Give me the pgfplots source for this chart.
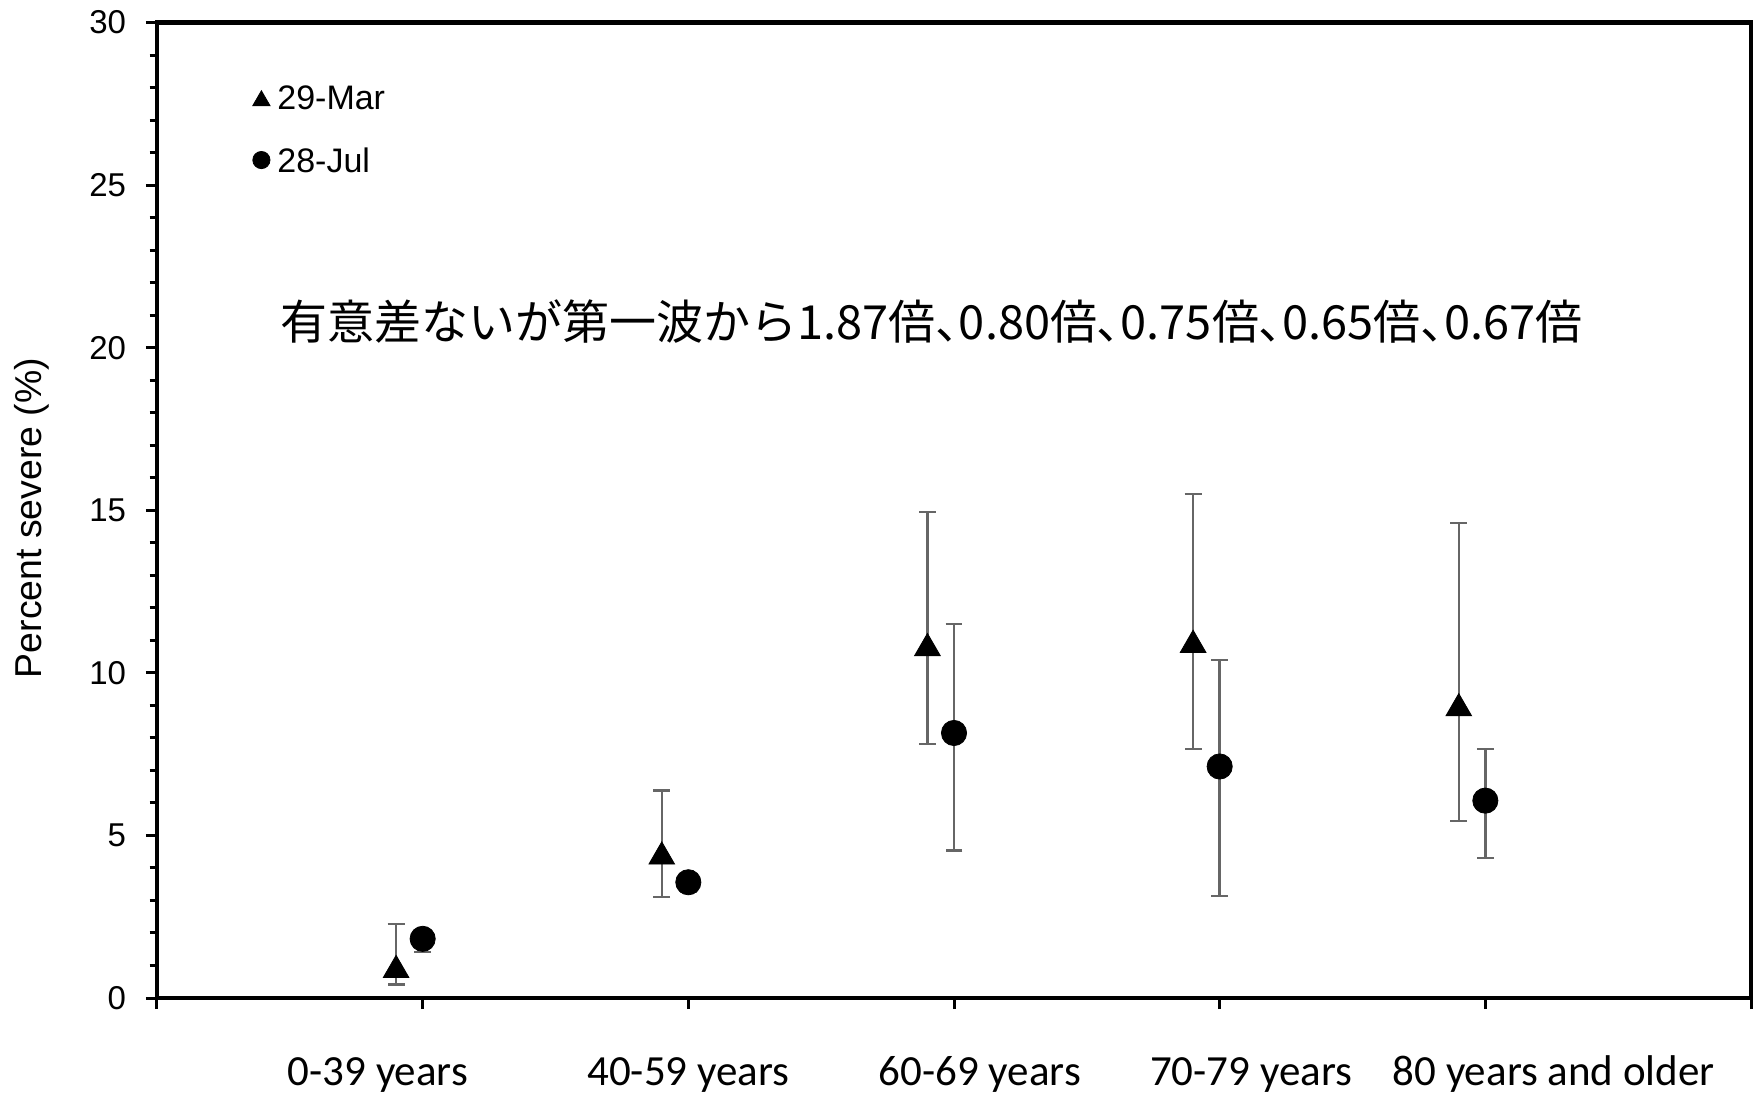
\documentclass[border=0pt]{standalone}
\usepackage{pgfplots}
\pgfplotsset{compat=1.18}
\usepackage{fontspec}
\setmainfont{Liberation Sans}
\newfontfamily\carlito{Carlito}
\newfontfamily\jp{Noto Sans CJK JP}
\newfontfamily\jpp[RawFeature=+palt]{Noto Sans CJK JP}
\definecolor{errgray}{HTML}{666666}
\newcommand{\xl}[2]{\makebox[0pt][c]{\hspace*{#1}#2}}
\newcommand{\tn}{{\jpp 、}}
\begin{document}
\begin{tikzpicture}
\begin{axis}[
  name=ax,
  scale only axis, width=797pt, height=487.75pt,
  xmin=0, xmax=6, ymin=0, ymax=30,
  axis line style={line width=2.2pt, black},
  xtick={0,1,2,3,4,5,6},
  xticklabels={,\xl{-44.8pt}{0-39 years},\xl{0pt}{40-59 years},\xl{25.8pt}{60-69 years},\xl{31.4pt}{70-79 years},\xl{68.4pt}{80 years and older},},
  ytick={0,5,10,15,20,25,30},
  minor y tick num=4,
  tick align=outside, tick pos=left,
  major tick length=5.5pt, minor tick length=3.7pt,
  every tick/.style={black, line width=1.5pt},
  /pgf/number format/assume math mode=true,
  yticklabel style={font=\fontsize{16.5}{20}\selectfont, inner sep=0pt, anchor=east, xshift=-9.8pt},
  xticklabel style={font=\carlito\fontsize{21.5}{25}\selectfont, inner sep=0pt, anchor=base, yshift=-38.3pt},
  ylabel={Percent severe (\%)},
  every axis y label/.style={at={(axis description cs:0,0.5)}, rotate=90, anchor=center, yshift=62.8pt, xshift=-3.9pt, font=\fontsize{18.7}{22}\selectfont},
  clip=false,
]
\addplot[only marks, mark=triangle*, mark size=7.4pt, mark options={black, fill=black, yshift=-1.85pt},
  error bars/.cd, y dir=both, y explicit,
  error bar style={errgray, line width=1.2pt},
  error mark options={errgray, line width=1.2pt, mark size=4.2pt, rotate=90}]
  coordinates {
  (0.9,0.97) += (0,1.31) -= (0,0.55)
  (1.9,4.46) += (0,1.92) -= (0,1.35)
  (2.9,10.87) += (0,4.08) -= (0,3.06)
  (3.9,10.97) += (0,4.53) -= (0,3.32)
  (4.9,9.02) += (0,5.58) -= (0,3.57)
  };
\addplot[only marks, mark=*, mark size=6.3pt, mark options={black, fill=black},
  error bars/.cd, y dir=both, y explicit,
  error bar style={errgray, line width=1.2pt},
  error mark options={errgray, line width=1.2pt, mark size=4.2pt, rotate=90}]
  coordinates {
  (1,1.82) += (0,0.28) -= (0,0.40)
  (2,3.56) += (0,0.25) -= (0,0.30)
  (3,8.15) += (0,3.35) -= (0,3.61)
  (4,7.12) += (0,3.28) -= (0,3.98)
  (5,6.07) += (0,1.59) -= (0,1.77)
  };
% legend markers
\addplot[only marks, mark=triangle*, mark size=5pt, mark options={black, fill=black, yshift=-1.25pt}, forget plot] coordinates {(0.393,27.67)};
\addplot[only marks, mark=*, mark size=4.3pt, mark options={black, fill=black}, forget plot] coordinates {(0.393,25.77)};
\node[anchor=west, inner sep=0pt, font=\fontsize{17}{20}\selectfont] at (axis cs:0.4516,27.67) {29-Mar};
\node[anchor=west, inner sep=0pt, font=\fontsize{17}{20}\selectfont] at (axis cs:0.4516,25.77) {28-Jul};
\node[anchor=center, inner sep=0pt, font=\jp\fontsize{23.5}{28}\selectfont] at (axis cs:2.915,20.8) {有意差ないが第一波から1.87倍\tn 0.80倍\tn 0.75倍\tn 0.65倍\tn 0.67倍};
\end{axis}
\pgfresetboundingbox
\path ([xshift=-78.5pt,yshift=-47.5pt]ax.south west) rectangle ([xshift=4.5pt,yshift=11.25pt]ax.north east);
\end{tikzpicture}
\end{document}
